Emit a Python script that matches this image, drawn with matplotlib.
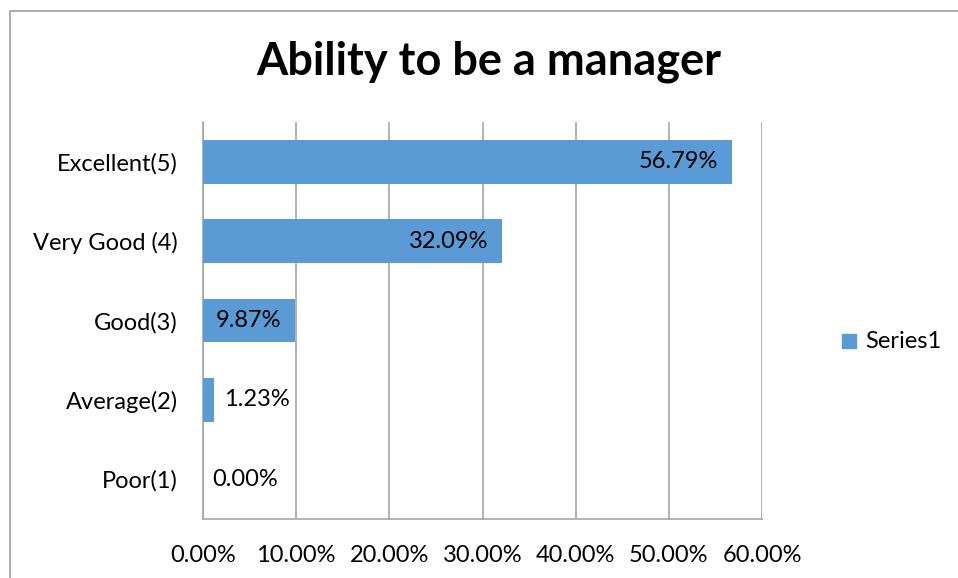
import matplotlib
matplotlib.use('Agg')
import matplotlib.pyplot as plt
from matplotlib.patches import Rectangle

plt.rcParams['font.family'] = ['Lato', 'DejaVu Sans']

categories = ['Poor(1)', 'Average(2)', 'Good(3)', 'Very Good (4)', 'Excellent(5)']
values = [0.00, 1.23, 9.87, 32.09, 56.79]
xticks = [0, 10, 20, 30, 40, 50, 60]
bar_color = '#5B9BD5'
grid_color = '#A6A6A6'
fs = 17

fig = plt.figure(figsize=(9.58, 5.78), dpi=100)
# outer chart border
fig.patches.append(Rectangle((10/958, -0.01), 960/958, 1 - 11/578 + 0.01,
                             transform=fig.transFigure, fill=False,
                             edgecolor='#A0A0A0', lw=1.2))

ax = fig.add_axes([203/958, 1 - 519/578, (762-203)/958, (519-122)/578])
ypos = range(len(categories))
bars = ax.barh(ypos, values, height=0.55, color=bar_color, zorder=3)

ax.set_xlim(0, 60)
ax.set_ylim(-0.5, len(categories) - 0.5)
ax.set_xticks(xticks)
ax.set_xticklabels(['%.2f%%' % t for t in xticks], fontsize=fs)
ax.set_yticks(list(ypos))
ax.set_yticklabels(categories, fontsize=fs)
ax.tick_params(axis='x', length=0, pad=19)
ax.tick_params(axis='y', length=0, pad=18)
ax.grid(axis='x', color=grid_color, lw=1.2, zorder=0)
for s in ['top', 'right']:
    ax.spines[s].set_visible(False)
for s in ['left', 'bottom']:
    ax.spines[s].set_color(grid_color)
    ax.spines[s].set_linewidth(1.2)

for y, v in zip(ypos, values):
    lab = '%.2f%%' % v
    if v > 5:
        ax.text(v - 1.5, y, lab, ha='right', va='center', fontsize=fs, zorder=4)
    else:
        ax.text(v + 1.0, y, lab, ha='left', va='center', fontsize=fs, zorder=4)

fig.text(489/958, 1 - 62/578, 'Ability to be a manager', ha='center', va='center',
         fontsize=32.5, fontweight='bold')

# legend
fig.patches.append(Rectangle((842/958, 1 - 348/578), 14/958, 14/578,
                             transform=fig.transFigure, color=bar_color))
fig.text(865/958, 1 - 341/578, 'Series1', ha='left', va='center', fontsize=fs)

fig.savefig('out.png', dpi=100)
